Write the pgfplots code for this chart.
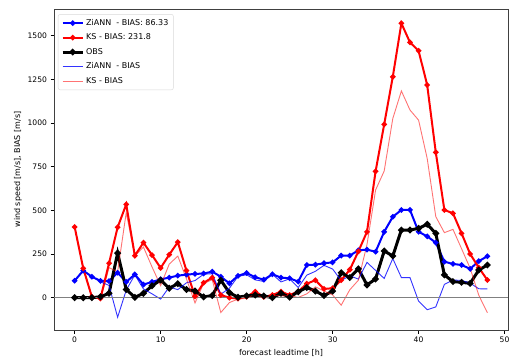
\documentclass[border=0pt]{standalone}
\usepackage{fontspec}
\setmainfont{DejaVu Sans}
\usepackage{pgfplots}
\usepackage{pgfplotstable}
\pgfplotsset{compat=1.18}
\pgfplotstableread{
h obs zia ks ziab ksb
0 0 97 405 97 405
1 0 155 168 155 168
2 0 120 6 120 6
3 5 96 -5 91 -10
4 25 95 197 70 172
5 255 143 403 -112 148
6 47 90 534 43 487
7 2 133 240 131 238
8 25 75 315 50 290
9 68 90 244 22 176
10 101 105 170 -8 69
11 54 115 246 61 192
12 80 126 318 46 238
13 47 132 155 85 108
14 38 136 8 98 -30
15 4 138 85 134 81
16 12 149 115 137 103
17 100 120 15 20 -85
18 28 82 0 54 -28
19 3 125 -5 122 -8
20 10 141 6 131 -4
21 15 117 35 102 20
22 10 103 5 93 -5
23 0 134 15 134 15
24 25 115 35 90 10
25 3 111 15 108 12
26 34 92 35 58 1
27 58 187 80 129 22
28 38 189 100 151 62
29 12 197 50 185 38
30 38 202 54 164 16
31 143 241 100 98 -43
32 115 241 160 126 45
33 165 271 265 106 100
34 73 275 377 202 304
35 107 263 723 156 616
36 267 377 992 110 725
37 239 463 1264 224 1025
38 387 502 1570 115 1183
39 387 502 1461 115 1074
40 397 377 1413 -20 1016
41 420 351 1217 -69 797
42 368 315 832 -53 464
43 130 206 502 76 372
44 92 193 483 101 391
45 88 187 368 99 280
46 82 165 250 83 168
47 158 209 172 51 14
48 187 237 101 50 -86
}\data
\begin{document}
\begin{tikzpicture}
\begin{axis}[
  name=ax,
  anchor=south west, at={(0,0)},
  scale only axis, width=454pt, height=321pt,
  xmin=-2.4, xmax=50.4, ymin=-185, ymax=1652,
  xtick={0,10,...,50}, ytick={0,250,...,1500},
  tick align=outside, tick pos=left, major tick length=3.5pt,
  every tick/.style={black, line width=0.7pt},
  axis line style={black!75, line width=0.9pt},
  tick label style={font=\fontsize{7.6}{9}\selectfont},
  /pgf/number format/assume math mode=true,
  /pgf/number format/set thousands separator={},
  label style={font=\fontsize{8}{9.6}\selectfont},
  xlabel={forecast leadtime [h]},
  ylabel={wind speed [m/s], BIAS [m/s]},
  x label style={at={(axis description cs:0.5,-0.0717)}, anchor=center},
  y label style={at={(axis description cs:-0.0793,0.5)}, anchor=center},
  legend style={at={(axis description cs:0.0088,0.984)}, anchor=north west,
    draw=black!15, rounded corners=2pt, font=\fontsize{8}{9.6}\selectfont,
    row sep=3pt, inner xsep=3pt, inner ysep=3pt},
  legend cell align=left,
  legend image code/.code={\draw[mark repeat=2,mark phase=2,#1] plot coordinates {(0pt,0pt) (10pt,0pt) (20pt,0pt)};},
]
\addplot[blue, line width=2pt, mark=*, mark size=1.6pt] table[x=h,y=zia] {\data};
\addlegendentry{ZiANN~ - BIAS: 86.33}
\addplot[red, line width=2pt, mark=*, mark size=1.6pt] table[x=h,y=ks] {\data};
\addlegendentry{KS - BIAS: 231.8}
\addplot[black, line width=3pt, mark=*, mark size=1.5pt] table[x=h,y=obs] {\data};
\addlegendentry{OBS}
\addplot[blue, opacity=0.8, line width=0.9pt] table[x=h,y=ziab] {\data};
\addlegendentry{ZiANN~ - BIAS}
\addplot[red, opacity=0.55, line width=0.9pt] table[x=h,y=ksb] {\data};
\addlegendentry{KS - BIAS}
\addplot[gray, line width=0.8pt, forget plot] coordinates {(-2.4,0) (50.4,0)};
\end{axis}
\pgfresetboundingbox
\path (ax.south west) ++(-54pt,-29pt) rectangle ++(510pt,359pt);
\end{tikzpicture}
\end{document}
